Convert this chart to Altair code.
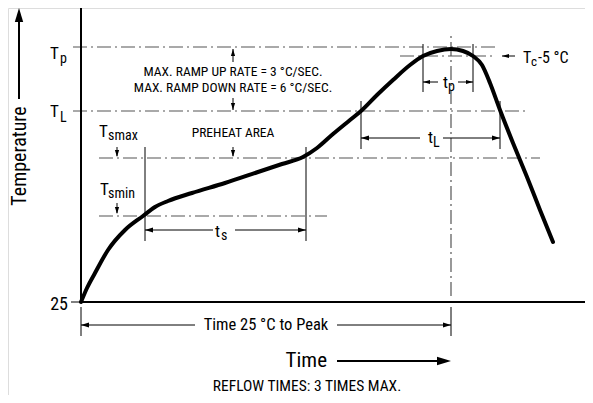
import altair as alt
import pandas as pd

FONT = "Roboto Condensed, Liberation Sans, sans-serif"

# ---- reflow profile curve (time units vs temperature units above the 25 °C baseline)
curve_t = [0, 6, 14, 27, 44, 62, 74, 87, 111, 144, 177, 201, 222, 236, 252, 269, 280,
           296, 312, 329, 342, 356, 370, 382, 392, 401, 409, 419, 432, 446, 459, 472]
curve_v = [0, 14, 29, 52, 72, 86, 95, 101, 109, 119, 130, 138, 145, 154, 168, 182, 191,
           207, 222, 237, 246, 251, 253, 251, 246, 237, 219, 192, 159, 125, 92, 60]

# ---- characteristic levels
level_names = ["Tp", "Tc-5", "TL", "Tsmax", "Tsmin"]
level_v = [255, 246, 191, 144, 86]
level_t0 = [-8, 319, -8, 18, 18]
level_t1 = [414, 414, 444, 459, 246]

# ---- characteristic times
t_peak = 370
ts_bounds = [64, 225]
tL_bounds = [280, 419]
tp_bounds = [342, 392]

X_DOM = [-73, 504]
Y_DOM = [-93, 294]

xs = alt.Scale(domain=X_DOM, nice=False, zero=False)
ys = alt.Scale(domain=Y_DOM, nice=False, zero=False)

def X(f="t"):
    return alt.X(f"{f}:Q", scale=xs, axis=None)

def Y(f="v"):
    return alt.Y(f"{f}:Q", scale=ys, axis=None)

curve_df = pd.DataFrame({"t": curve_t, "v": curve_v})
curve = alt.Chart(curve_df).mark_line(
    interpolate="monotone", color="black", strokeWidth=4, strokeCap="round"
).encode(x=X(), y=Y(), order="t:Q")

dash_rows = []
for n, v, a, b in zip(level_names, level_v, level_t0, level_t1):
    dash_rows.append({"t": a, "t2": b, "v": v, "v2": v})
dash_rows.append({"t": t_peak, "t2": t_peak, "v": 6, "v2": 270})
dash_df = pd.DataFrame(dash_rows)
dashes = alt.Chart(dash_df).mark_rule(
    color="#555555", strokeWidth=1.2, strokeDash=[14, 4, 2, 4]
).encode(x=X(), x2="t2:Q", y=Y(), y2="v2:Q")

solid_rows = [
    {"t": 0, "t2": 0, "v": 0, "v2": 294, "w": 2},
    {"t": 0, "t2": 504, "v": 0, "v2": 0, "w": 2},
    {"t": -10, "t2": 0, "v": 0, "v2": 0, "w": 1},
    {"t": -62, "t2": -62, "v": 203, "v2": 290, "w": 2},
    {"t": 256, "t2": 366, "v": -59, "v2": -59, "w": 2},
]
for b in ts_bounds:
    solid_rows.append({"t": b, "t2": b, "v": 61, "v2": 155, "w": 1})
for b in tL_bounds:
    solid_rows.append({"t": b, "t2": b, "v": 153, "v2": 201, "w": 1})
for b in tp_bounds:
    solid_rows.append({"t": b, "t2": b, "v": 210, "v2": 258, "w": 1})
for b in [0, t_peak]:
    solid_rows.append({"t": b, "t2": b, "v": -34, "v2": -5, "w": 1})
shafts = [
    (ts_bounds[0], 132, 72), (154, ts_bounds[1], 72),
    (tL_bounds[0], 339, 164), (362, tL_bounds[1], 164),
    (tp_bounds[0], 357, 220), (377, tp_bounds[1], 220),
    (0, 114, -23), (256, t_peak, -23),
    (421, 434, 246),
]
for a, b, v in shafts:
    solid_rows.append({"t": a, "t2": b, "v": v, "v2": v, "w": 1})
vshafts = [(152, 240, 253), (152, 204, 192), (36, 155, 146), (152, 155, 146), (36, 99, 89)]
for t, a, b in vshafts:
    solid_rows.append({"t": t, "t2": t, "v": a, "v2": b, "w": 1})
solid_df = pd.DataFrame(solid_rows)
solids = alt.Chart(solid_df).mark_rule(color="black").encode(
    x=X(), x2="t2:Q", y=Y(), y2="v2:Q", strokeWidth=alt.StrokeWidth("w:Q", scale=None)
)

head_rows = [
    (ts_bounds[0], 72, 180, 64), (ts_bounds[1], 72, 0, 64),
    (tL_bounds[0], 164, 180, 64), (tL_bounds[1], 164, 0, 64),
    (tp_bounds[0], 220, 180, 49), (tp_bounds[1], 220, 0, 49),
    (0, -23, 180, 64), (t_peak, -23, 0, 64),
    (t_peak, -59, 0, 196), (-62, 294, 270, 196),
    (152, 253, 270, 49), (152, 192, 90, 49),
    (36, 145, 90, 49), (152, 145, 90, 49), (36, 88, 90, 49),
    (421, 246, 180, 49),
]
head_df = pd.DataFrame(head_rows, columns=["t", "v", "ang", "sz"])
heads = alt.Chart(head_df).mark_point(
    shape="M0,0L-2,-0.6L-2,0.6Z", filled=True, color="black", opacity=1, strokeWidth=0
).encode(
    x=X(), y=Y(),
    angle=alt.Angle("ang:Q", scale=None),
    size=alt.Size("sz:Q", scale=None),
)

# labels with subscripts (left aligned, alphabetic baseline)
left_labels = pd.DataFrame([
    (-31, 243, "T", 17), (-21, 239, "p", 14),
    (-31, 185, "T", 17), (-21, 180, "L", 14),
    (18, 165, "T", 17), (27, 162, "smax", 14),
    (19, 107, "T", 17), (27, 104, "smin", 14),
    (442, 239, "T", 16), (450, 236, "c", 13), (457, 239, "-5 °C", 16),
    (362, 214, "t", 17), (367, 211, "p", 14),
    (347, 159, "t", 17), (352, 155, "L", 14),
    (134, 65, "t", 17), (140, 62, "s", 14),
], columns=["t", "v", "txt", "fs"])
left_txt = alt.Chart(left_labels).mark_text(
    align="left", baseline="alphabetic", font=FONT, color="black"
).encode(x=X(), y=Y(), text="txt:N", size=alt.Size("fs:Q", scale=None))

center_labels = pd.DataFrame([
    (152, 230, "MAX. RAMP UP RATE = 3 °C/SEC.", 13.5),
    (152, 214, "MAX. RAMP DOWN RATE = 6 °C/SEC.", 13.5),
    (152, 169, "PREHEAT AREA", 13.5),
    (185, -23, "Time 25 °C to Peak", 16.5),
    (226, -84, "REFLOW TIMES: 3 TIMES MAX.", 15.5),
], columns=["t", "v", "txt", "fs"])
center_txt = alt.Chart(center_labels).mark_text(
    align="center", baseline="middle", font=FONT, color="black"
).encode(x=X(), y=Y(), text="txt:N", size=alt.Size("fs:Q", scale=None))

right_labels = pd.DataFrame([
    (-13, -3, "25", 18),
    (246, -59, "Time", 21),
], columns=["t", "v", "txt", "fs"])
right_txt = alt.Chart(right_labels).mark_text(
    align="right", baseline="middle", font=FONT, color="black"
).encode(x=X(), y=Y(), text="txt:N", size=alt.Size("fs:Q", scale=None))

rot_labels = pd.DataFrame([(-61, 146, "Temperature", 20)], columns=["t", "v", "txt", "fs"])
rot_txt = alt.Chart(rot_labels).mark_text(
    align="center", baseline="middle", font=FONT, color="black", angle=270
).encode(x=X(), y=Y(), text="txt:N", size=alt.Size("fs:Q", scale=None))

chart = alt.layer(
    dashes, solids, curve, heads, left_txt, center_txt, right_txt, rot_txt
).properties(
    width=577, height=387, padding=0, autosize=alt.AutoSizeParams(type="none")
).configure_view(stroke=None).configure(background="white")

chart.save("out.html", embed_options={"renderer": "svg", "actions": False})
